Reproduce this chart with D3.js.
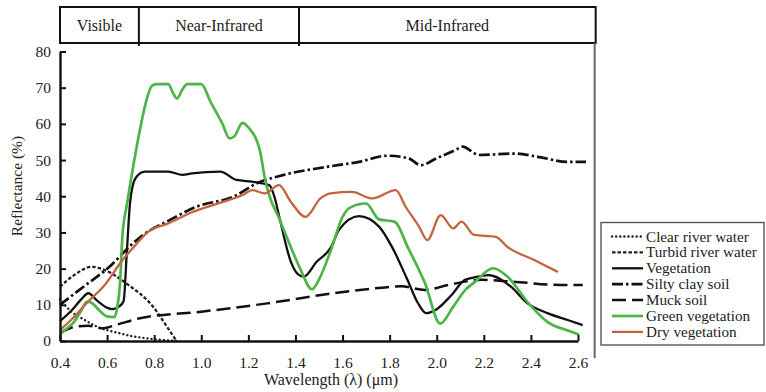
<!DOCTYPE html>
<html>
<head>
<meta charset="utf-8">
<script src="https://cdn.jsdelivr.net/npm/d3@7"></script>
<style>
  html, body { margin: 0; padding: 0; background: #fff; }
  svg { display: block; }
  text { font-family: "Liberation Serif", "DejaVu Serif", serif; fill: #222; }
</style>
</head>
<body>
<svg id="chart" width="766" height="392"></svg>
<script>
// Spectral bands shown across the top (wavelength bounds in µm)
const bandNames = ["Visible", "Near-Infrared", "Mid-Infrared"];
const bandEdges = [0.4, 0.735, 1.415, 2.675];

// Axis ticks
const xTicks = [0.4, 0.6, 0.8, 1.0, 1.2, 1.4, 1.6, 1.8, 2.0, 2.2, 2.4, 2.6];
const yTicks = [0, 10, 20, 30, 40, 50, 60, 70, 80];

// Reflectance curves: wavelength (µm) and reflectance (%)
const clearWaterWl = [0.40, 0.45, 0.50, 0.55, 0.60, 0.65, 0.70, 0.75, 0.80, 0.85, 0.90];
const clearWaterR  = [11.5, 8.0, 6.0, 4.2, 3.0, 2.2, 1.4, 0.9, 0.5, 0.2, 0.0];

const turbidWaterWl = [0.40, 0.46, 0.535, 0.59, 0.69, 0.79, 0.868, 0.895];
const turbidWaterR  = [15.0, 18.2, 20.5, 19.6, 15.5, 9.9, 2.6, 0.0];

const vegetationWl = [0.40, 0.45, 0.49, 0.52, 0.56, 0.60, 0.62, 0.65, 0.67, 0.684, 0.698, 0.72, 0.76, 0.86, 0.92, 0.96, 1.08, 1.15, 1.22, 1.29, 1.31, 1.336, 1.38, 1.41, 1.435, 1.49, 1.55, 1.585, 1.67, 1.755, 1.81, 1.875, 1.92, 1.955, 2.0, 2.06, 2.12, 2.16, 2.22, 2.315, 2.386, 2.47, 2.556, 2.62];
const vegetationR  = [5.5, 8.5, 11.5, 13.2, 11.0, 9.2, 8.8, 9.5, 11.0, 24.7, 38.5, 44.9, 46.8, 46.8, 45.9, 46.3, 46.8, 44.5, 44.0, 43.0, 40.0, 33.0, 22.0, 18.5, 17.8, 21.9, 25.8, 30.7, 34.5, 31.6, 26.0, 17.0, 10.5, 7.7, 8.8, 12.5, 16.9, 17.6, 18.2, 15.0, 10.4, 7.7, 5.8, 4.4];

const siltyClayWl = [0.40, 0.50, 0.61, 0.71, 0.78, 0.854, 0.975, 1.14, 1.237, 1.35, 1.52, 1.67, 1.79, 1.88, 1.932, 2.0, 2.08, 2.109, 2.18, 2.33, 2.43, 2.556, 2.634];
const siltyClayR  = [10.0, 15.0, 20.5, 27.0, 30.5, 33.0, 37.0, 40.0, 43.6, 45.9, 48.0, 49.5, 51.2, 50.5, 48.6, 50.5, 52.8, 53.7, 51.4, 51.8, 50.9, 49.5, 49.5];

const muckSoilWl = [0.40, 0.46, 0.52, 0.58, 0.64, 0.74, 1.0, 1.28, 1.56, 1.78, 1.85, 1.95, 2.05, 2.19, 2.32, 2.53, 2.62];
const muckSoilR  = [2.2, 3.9, 4.2, 3.5, 4.5, 6.3, 8.1, 10.4, 13.2, 14.8, 15.1, 14.1, 15.5, 16.9, 16.4, 15.5, 15.5];

const greenVegWl = [0.40, 0.43, 0.46, 0.49, 0.515, 0.535, 0.565, 0.60, 0.63, 0.645, 0.655, 0.665, 0.685, 0.705, 0.74, 0.765, 0.79, 0.81, 0.86, 0.88, 0.897, 0.92, 0.94, 1.0, 1.04, 1.09, 1.12, 1.14, 1.175, 1.20, 1.25, 1.27, 1.29, 1.33, 1.365, 1.42, 1.47, 1.50, 1.55, 1.60, 1.63, 1.70, 1.755, 1.82, 1.88, 1.95, 2.015, 2.07, 2.12, 2.16, 2.24, 2.30, 2.39, 2.47, 2.57, 2.605];
const greenVegR  = [2.0, 3.5, 5.3, 8.4, 10.9, 10.5, 8.6, 6.8, 6.6, 10.0, 16.0, 29.0, 38.0, 46.0, 58.5, 66.0, 70.5, 71.0, 71.0, 68.5, 67.0, 69.5, 71.0, 71.0, 66.0, 60.0, 56.0, 56.5, 60.3, 59.0, 52.3, 45.0, 40.0, 34.0, 28.4, 20.0, 14.3, 17.0, 25.0, 34.3, 36.8, 38.0, 33.6, 33.0, 25.5, 16.0, 4.8, 9.5, 14.0, 16.2, 20.1, 17.8, 10.4, 5.3, 2.6, 1.7];

const dryVegWl = [0.40, 0.45, 0.52, 0.59, 0.66, 0.72, 0.775, 0.86, 0.95, 1.095, 1.18, 1.216, 1.27, 1.33, 1.38, 1.443, 1.506, 1.55, 1.64, 1.726, 1.826, 1.868, 1.925, 1.96, 2.017, 2.07, 2.105, 2.159, 2.251, 2.30, 2.414, 2.514];
const dryVegR  = [3.0, 6.0, 10.9, 15.5, 21.9, 26.5, 30.2, 32.5, 35.3, 38.5, 40.5, 41.7, 40.8, 43.1, 38.5, 34.3, 39.4, 40.8, 41.2, 39.4, 41.7, 37.1, 31.6, 27.9, 34.8, 31.1, 33.0, 29.3, 28.8, 26.0, 22.4, 19.1];

const seriesNames = ["Clear river water", "Turbid river water", "Vegetation", "Silty clay soil", "Muck soil", "Green vegetation", "Dry vegetation"];

// Line styling per series
const styles = [
  { color: "#222", width: 2.4, dash: "0.1,4", cap: "round" },
  { color: "#222", width: 2.3, dash: "3.5,2", cap: "butt" },
  { color: "#111", width: 2.3, dash: null, cap: "butt" },
  { color: "#111", width: 2.7, dash: "11,3,2.5,3", cap: "butt" },
  { color: "#111", width: 2.5, dash: "14,6", cap: "butt" },
  { color: "#4bb548", width: 2.7, dash: null, cap: "butt" },
  { color: "#c3643e", width: 2.3, dash: null, cap: "butt" }
];

const wls = [clearWaterWl, turbidWaterWl, vegetationWl, siltyClayWl, muckSoilWl, greenVegWl, dryVegWl];
const rs  = [clearWaterR, turbidWaterR, vegetationR, siltyClayR, muckSoilR, greenVegR, dryVegR];
const series = seriesNames.map((name, i) => ({
  name, style: styles[i],
  points: wls[i].map((w, j) => ({ wl: w, r: rs[i][j] }))
}));

const svg = d3.select("#chart");

const x = d3.scaleLinear().domain([0.4, 2.6]).range([60, 578]);
const y = d3.scaleLinear().domain([0, 80]).range([341, 51.5]);

// Band header
const header = svg.append("g");
const hTop = 7, hBot = 43;
header.append("rect")
  .attr("x", x(bandEdges[0])).attr("y", hTop)
  .attr("width", x(bandEdges[3]) - x(bandEdges[0])).attr("height", hBot - hTop)
  .attr("fill", "none").attr("stroke", "#111").attr("stroke-width", 2);
[bandEdges[1], bandEdges[2]].forEach(b => {
  header.append("line")
    .attr("x1", x(b)).attr("x2", x(b)).attr("y1", hTop).attr("y2", hBot + 3)
    .attr("stroke", "#111").attr("stroke-width", 2);
});
bandNames.forEach((n, i) => {
  header.append("text")
    .attr("x", (x(bandEdges[i]) + x(bandEdges[i + 1])) / 2)
    .attr("y", 31)
    .attr("text-anchor", "middle")
    .attr("font-size", 16)
    .text(n);
});

// Right frame edge of the plot
svg.append("line")
  .attr("x1", x(bandEdges[3]) - 1).attr("x2", x(bandEdges[3]) - 1)
  .attr("y1", hBot).attr("y2", 358)
  .attr("stroke", "#666").attr("stroke-width", 2);

// Curves
const line = d3.line().x(d => x(d.wl)).y(d => y(d.r)).curve(d3.curveMonotoneX);
const curves = svg.append("g");
series.forEach(s => {
  curves.append("path")
    .datum(s.points)
    .attr("d", line)
    .attr("fill", "none")
    .attr("stroke", s.style.color)
    .attr("stroke-width", s.style.width)
    .attr("stroke-dasharray", s.style.dash)
    .attr("stroke-linecap", s.style.cap)
    .attr("stroke-linejoin", "round");
});

// Axes with inward ticks
const xAxis = svg.append("g").attr("transform", `translate(0,${y(0)})`)
  .call(d3.axisBottom(x).tickValues(xTicks).tickFormat(d3.format(".1f")).tickSizeInner(-6).tickSizeOuter(0).tickPadding(16));
const yAxis = svg.append("g").attr("transform", `translate(${x(0.4)},0)`)
  .call(d3.axisLeft(y).tickValues(yTicks).tickSizeInner(-6).tickSizeOuter(0).tickPadding(9));
[xAxis, yAxis].forEach(a => {
  a.select(".domain").attr("stroke", "#111").attr("stroke-width", 2.4);
  a.selectAll(".tick line").attr("stroke", "#111").attr("stroke-width", 2);
  a.selectAll(".tick text").attr("font-size", 15.5).attr("fill", "#2a2a2a")
    .attr("font-family", "\"Liberation Serif\", \"DejaVu Serif\", serif");
});

// Axis titles
svg.append("text")
  .attr("x", 331).attr("y", 385)
  .attr("text-anchor", "middle").attr("font-size", 16)
  .text("Wavelength (λ) (μm)");
svg.append("text")
  .attr("transform", "translate(22,186) rotate(-90)")
  .attr("text-anchor", "middle").attr("font-size", 15.5)
  .text("Reflectance (%)");

// Legend
const legend = svg.append("g");
legend.append("rect")
  .attr("x", 601).attr("y", 222.5).attr("width", 163).attr("height", 122.5)
  .attr("fill", "#fff").attr("stroke", "#555").attr("stroke-width", 1.4);
series.forEach((s, i) => {
  const ly = 236.5 + i * 15.9;
  legend.append("line")
    .attr("x1", 612).attr("x2", 643).attr("y1", ly).attr("y2", ly)
    .attr("stroke", s.style.color)
    .attr("stroke-width", s.style.width)
    .attr("stroke-dasharray", s.style.dash)
    .attr("stroke-linecap", s.style.cap);
  legend.append("text")
    .attr("x", 646).attr("y", ly + 5)
    .attr("font-size", 15.2)
    .text(s.name);
});
</script>
</body>
</html>
